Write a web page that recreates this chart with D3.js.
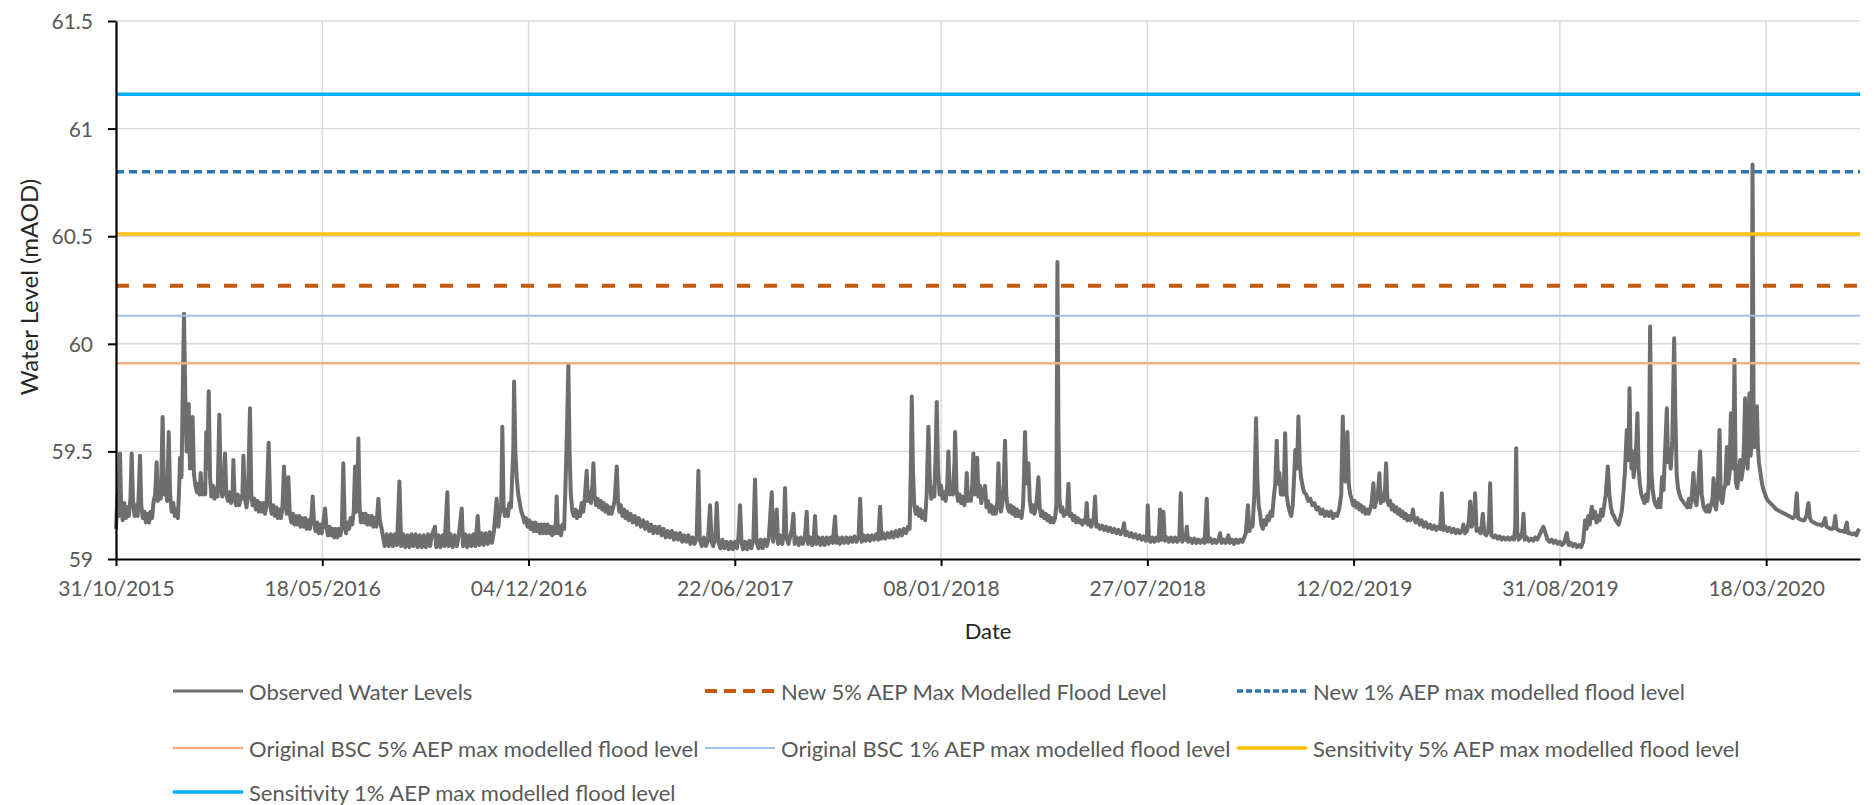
<!DOCTYPE html>
<html>
<head>
<meta charset="utf-8">
<script src="https://cdn.jsdelivr.net/npm/d3@7"></script>
<style>
  body { margin: 0; background: #ffffff; }
  svg text { font-family: Lato, "Open Sans", "DejaVu Sans", sans-serif; }
</style>
</head>
<body>
<svg id="chart" width="1874" height="805"></svg>
<script>
// ---- data -----------------------------------------------------------------
const startLabel = "31/10/2015";          // first day of the record
const axisEndDay = 1691;                  // x axis runs to this many days after the start
const xTickLabels = ["31/10/2015", "18/05/2016", "04/12/2016", "22/06/2017", "08/01/2018",
                     "27/07/2018", "12/02/2019", "31/08/2019", "18/03/2020"];
const yTicks = [59, 59.5, 60, 60.5, 61, 61.5];

// modelled flood levels (mAOD)
const levelNames = [
  "New 5% AEP Max Modelled Flood Level",
  "New 1% AEP max modelled flood level",
  "Original BSC 5% AEP max modelled flood level",
  "Original BSC 1% AEP max modelled flood level",
  "Sensitivity 5% AEP max modelled flood level",
  "Sensitivity 1% AEP max modelled flood level"
];
const levelValues = [60.27, 60.80, 59.91, 60.13, 60.51, 61.16];

// observed water level: [days after start, level mAOD]
const observedLevels = [
[0,59.14],[1.5,59.3],[2.5,59.2],[3.9,59.49],[5,59.25],[6.5,59.18],[8,59.26],[9.5,59.19],[11,59.24],[12.5,59.2],[14,59.28],[15.2,59.49],[16.5,59.27],[18,59.2],[19.5,59.25],[21,59.2],[22,59.3],[23.3,59.48],[24.5,59.25],[26,59.19],[27.5,59.22],[29,59.17],[30.5,59.21],[32,59.17],[33.5,59.22],[35,59.19],[36.5,59.27],[38,59.3],[39.4,59.45],[40.5,59.27],[42,59.33],[43.5,59.28],[45.2,59.66],[46.5,59.3],[48,59.35],[49.5,59.27],[51.1,59.59],[52.5,59.3],[54,59.22],[55.5,59.26],[57,59.2],[58.5,59.23],[60,59.19],[61,59.3],[62.1,59.47],[63.5,59.38],[65.9,60.14],[67.2,59.75],[68.5,59.5],[69.5,59.58],[70.5,59.72],[71.8,59.42],[73,59.47],[74.3,59.66],[75.5,59.4],[77,59.34],[78.5,59.31],[80,59.35],[81,59.3],[82.1,59.4],[83.5,59.3],[85,59.34],[86.5,59.3],[87.5,59.59],[88.6,59.42],[89.9,59.78],[91.2,59.38],[92.5,59.29],[94,59.34],[95.5,59.28],[97,59.33],[98.5,59.29],[100.2,59.67],[101.5,59.36],[103,59.29],[104.5,59.34],[105.7,59.49],[107,59.3],[108.5,59.27],[110,59.31],[111.5,59.26],[113,59.3],[113.8,59.46],[115,59.28],[116.5,59.25],[118,59.3],[119.5,59.25],[121,59.29],[122.5,59.28],[123.5,59.48],[125,59.28],[126.5,59.24],[128,59.29],[129.9,59.7],[131.2,59.3],[132.5,59.25],[134,59.28],[135.5,59.23],[137,59.27],[138.5,59.22],[140,59.26],[141.5,59.22],[143,59.26],[144.5,59.21],[146,59.25],[148,59.54],[149.5,59.25],[151,59.21],[152.5,59.25],[154,59.2],[155.5,59.24],[157,59.19],[158.5,59.23],[160,59.19],[161.5,59.25],[162.9,59.43],[164,59.27],[165.5,59.21],[167.1,59.38],[168.5,59.21],[170,59.17],[171.5,59.21],[173,59.16],[174.5,59.2],[176,59.16],[177.5,59.2],[179,59.15],[180.5,59.19],[182,59.15],[183.5,59.19],[185,59.14],[186.5,59.18],[188,59.14],[189.5,59.2],[190.7,59.29],[192,59.17],[193.5,59.13],[195,59.17],[196.5,59.12],[198,59.16],[199.5,59.12],[201,59.17],[202.7,59.235],[204,59.15],[205.5,59.11],[207,59.15],[208.5,59.11],[210,59.14],[211.5,59.1],[213,59.14],[214.5,59.1],[216,59.14],[217.5,59.11],[219,59.15],[220.4,59.445],[221.8,59.15],[223,59.12],[224.5,59.17],[226,59.14],[227.5,59.19],[229,59.16],[230.5,59.22],[231.8,59.43],[233,59.22],[234,59.3],[235,59.56],[236.2,59.24],[237.5,59.17],[239,59.21],[240.5,59.17],[242,59.21],[243.5,59.16],[245,59.2],[246.5,59.16],[248,59.2],[249.5,59.15],[251,59.19],[252.5,59.15],[254.4,59.28],[255.8,59.18],[257.6,59.14],
[259,59.1],[260.5,59.06],[262.5,59.115],[264.5,59.06],[266.5,59.115],[268.5,59.06],[270.5,59.115],[272.5,59.065],[274.8,59.36],[276.5,59.06],[278.5,59.115],[280.5,59.055],[282.5,59.11],[284.5,59.055],[286.5,59.115],[288.5,59.06],[290.5,59.115],[292.5,59.055],[294.5,59.11],[296.5,59.055],[298.5,59.11],[300.5,59.055],[302.5,59.115],[304.5,59.06],[306.5,59.115],[309.3,59.15],[310.5,59.055],[312.5,59.11],[314.5,59.055],[316.5,59.11],[318.5,59.06],[321.3,59.31],[322.5,59.06],[324.5,59.115],[326.5,59.055],[328.5,59.11],[330.5,59.06],[332.5,59.115],[335.2,59.235],[336.5,59.06],[338.5,59.115],[340.5,59.055],[342.5,59.11],[344.5,59.06],[346.5,59.115],[348.5,59.06],[350.7,59.2],[352.5,59.065],[354.5,59.12],[356.5,59.065],[358.5,59.12],[360.5,59.07],[362.5,59.125],[364.5,59.075],[366.5,59.13],[369.1,59.28],
[370.7,59.15],[372,59.21],[373.5,59.25],[374.6,59.615],[375.8,59.24],[377,59.2],[378.5,59.23],[380,59.2],[381.5,59.26],[383,59.24],[384.3,59.4],[385.2,59.5],[386,59.825],[387.2,59.5],[388.5,59.38],[390,59.3],[391.5,59.26],[393,59.22],[394.5,59.2],[396,59.17],[397.5,59.19],[399,59.15],[400.5,59.18],[402,59.14],[403.5,59.17],[405,59.13],[406.5,59.17],[408,59.13],[409.5,59.16],[411,59.12],[412.5,59.16],[414,59.12],[415.5,59.16],[417,59.12],[418.5,59.16],[420,59.12],
[421.5,59.15],[423,59.11],[424.5,59.15],[426,59.12],[427.3,59.29],[428.5,59.12],[430,59.15],[431.5,59.11],[433,59.16],[434.5,59.14],[436,59.37],[437.3,59.6],[438.6,59.9],[439.8,59.5],[441,59.3],[442.5,59.22],[444,59.2],[445.5,59.23],[447,59.19],[448.5,59.22],[450,59.2],[451.5,59.26],[453,59.22],[454.5,59.28],[456.4,59.41],[457.5,59.27],[459,59.31],[460.5,59.26],[462,59.35],[462.9,59.445],[464,59.3],[465.5,59.25],[467,59.28],[468.5,59.24],[470,59.27],[471.5,59.23],[473,59.26],[474.5,59.22],[476,59.25],[477.5,59.21],[479,59.24],[480.5,59.21],[482,59.24],[483.5,59.27],[485.5,59.43],[486.8,59.27],[488,59.22],[489.5,59.25],[491,59.2],[492.5,59.23],[494,59.19],[495.5,59.22],[497,59.18],[499,59.21],[501,59.17],[503,59.2],[505,59.16],[507,59.19],[509,59.15],[511,59.18],[513,59.14],[515,59.17],[517,59.13],[519,59.16],[521,59.12],[523,59.15],[525,59.12],[527,59.15],[529,59.11],[531,59.14],[533,59.1],[535,59.13],[537,59.1],[539,59.13],[541,59.09],[543,59.12],[545,59.09],[547,59.12],[549,59.08],[551,59.11],[553,59.08],[555,59.11],[557,59.07],[559,59.1],[561,59.07],[563,59.1],[564.7,59.41],[566,59.09],[568,59.06],[570,59.1],[572,59.06],[574,59.09],[576,59.25],[577.5,59.08],[579,59.06],[581,59.1],[582.5,59.26],[584,59.08],[586,59.05],[588,59.09],[590,59.05],[592,59.08],[594,59.045],[596,59.08],[598,59.045],[600,59.08],[602,59.05],[603.5,59.1],[605.1,59.25],[606.5,59.08],[608,59.045],[610,59.08],[612,59.045],[614,59.085],[616,59.05],[618,59.09],[619.6,59.37],[621,59.08],[623,59.05],[625,59.09],[627,59.05],[629,59.09],[631,59.06],[633,59.1],[635.8,59.31],[637.2,59.08],[638.8,59.12],[640.6,59.23],[642,59.07],[644,59.11],[646,59.07],[647.5,59.12],[648.7,59.33],[650,59.1],[652,59.07],[654,59.11],[655.5,59.14],[656.8,59.21],[658,59.07],[660,59.1],[662,59.065],[664,59.1],[666,59.07],[668,59.1],[669.7,59.22],[671,59.07],[673,59.1],[675,59.065],[676.5,59.1],[677.8,59.2],[679,59.07],[681,59.1],[683,59.065],[685,59.1],[687,59.065],[689,59.1],[691,59.07],[693,59.1],[695,59.075],[697.2,59.197],[698.5,59.075],[700,59.1],[702,59.07],[704,59.1],[706,59.075],[708,59.1],[710,59.075],[712,59.1],[714,59.08],[716,59.105],[718,59.08],[720,59.1],[721.5,59.28],[723,59.08],[725,59.11],[727,59.085],[729,59.11],[731,59.085],[733,59.11],[735,59.09],[737,59.115],[739,59.09],[740.9,59.243],[742.2,59.095],[744,59.12],[746,59.095],[748,59.12],[750,59.1],[752,59.125],[754,59.1],[756,59.13],[758,59.105],[760,59.135],[762,59.11],[764,59.14],[766,59.12],[768,59.15],[769.5,59.14],[770.6,59.4],[771.6,59.755],[772.8,59.4],[774,59.25],[775.5,59.21],[777,59.24],[778.5,59.2],[780,59.23],[781.5,59.19],[783,59.22],[784.5,59.18],[786,59.3],[787.7,59.615],[789,59.38],[790.5,59.28],[792,59.33],[793.5,59.29],[794.8,59.5],[795.8,59.73],[797,59.42],[798.5,59.3],[800,59.34],[801.5,59.28],[803,59.31],[804.5,59.27],[806,59.35],[807.1,59.5],[808.5,59.3],[810,59.34],[811.5,59.3],[813,59.45],[813.6,59.59],[815,59.32],[816.5,59.27],[818,59.3],[819.5,59.26],[821,59.29],[822.5,59.25],[824,59.3],[824.9,59.4],[826,59.27],[827.5,59.3],[829,59.27],
[830.2,59.35],[831.3,59.49],[832.5,59.3],[833.8,59.42],[835,59.47],[836.2,59.29],[837.8,59.34],[839,59.26],[840.5,59.3],[842.6,59.34],[844,59.24],[845.5,59.27],[847,59.22],[848.5,59.25],[850,59.21],[851.5,59.24],[853,59.21],[854.5,59.26],[855.6,59.445],[856.8,59.25],[858,59.22],[859.5,59.26],[860.8,59.35],[862,59.55],[863.2,59.3],[864.5,59.24],[866,59.22],[867.5,59.25],[869,59.21],[870.5,59.24],[872,59.2],[873.5,59.23],[875,59.2],[876.5,59.22],[878,59.19],[879.5,59.25],[880.5,59.4],[881.4,59.59],[882.5,59.38],[883.6,59.35],[884.7,59.445],[886,59.27],[887.5,59.22],[889,59.25],[890.5,59.21],[892,59.24],[893.2,59.3],[894.4,59.38],[895.6,59.24],[897,59.2],[898.5,59.22],[900,59.19],[901.5,59.21],[903,59.18],[904.5,59.2],[906,59.17],[907.5,59.19],[909,59.17],[910.5,59.19],[911.8,59.25],[912.8,60.38],[913.8,59.6],[914.8,59.28],[916,59.22],[917.5,59.24],[919,59.2],[920.5,59.22],[922,59.21],[923.5,59.35],[924.8,59.2],[926.5,59.21],[928,59.18],[929.5,59.2],[931,59.17],[932.5,59.19],[934,59.17],[935.5,59.18],[937,59.16],[938.5,59.18],[940,59.17],[941.2,59.26],[942.5,59.16],[944,59.18],[945.5,59.15],[947,59.17],[948.2,59.2],[949.3,59.29],[950.5,59.15],[952,59.16],[954,59.14],[956,59.155],[958,59.135],[960,59.15],[962,59.13],[964,59.145],[966,59.125],[968,59.14],[970,59.12],[972,59.135],[974,59.115],[976,59.13],[977.4,59.166],[978.7,59.11],[980.5,59.125],[982.5,59.105],[984.5,59.12],[986.5,59.1],[988.5,59.115],[990.5,59.095],[992.5,59.11],[994.5,59.09],[996.5,59.105],[998.5,59.085],[999.6,59.1],[1000.4,59.25],[1001.5,59.09],[1003,59.08],[1005,59.1],[1007,59.08],[1009,59.1],[1011,59.085],[1012.3,59.23],[1013.8,59.09],[1015.6,59.22],[1017,59.085],[1019,59.1],[1021,59.08],[1023,59.1],[1025,59.08],[1027,59.1],[1029,59.08],[1031,59.1],[1032.4,59.305],[1033.8,59.08],[1035.5,59.1],[1037,59.09],[1038.2,59.15],[1039.5,59.08],[1041.5,59.095],[1043.5,59.075],[1045.5,59.095],[1047.5,59.075],[1049.5,59.09],[1051.5,59.075],[1053.5,59.09],[1055.5,59.075],[1057.6,59.28],[1059,59.08],[1061,59.095],[1063,59.075],[1065,59.09],[1067,59.075],[1069,59.09],[1070.5,59.12],[1072,59.075],[1074,59.09],[1076,59.075],[1078.6,59.11],[1080,59.075],[1082,59.09],[1084,59.07],[1086,59.09],[1088,59.075],[1090,59.09],[1092,59.08],[1094,59.1],[1095.5,59.12],[1097.5,59.25],[1099,59.13],[1100.5,59.17],[1102,59.15],[1103.8,59.3],[1105.4,59.654],[1106.8,59.35],[1108,59.25],[1109.3,59.21],[1110.5,59.16],[1112,59.14],[1113.5,59.18],[1115,59.16],[1116.5,59.2],[1118,59.18],[1119.5,59.22],[1121,59.2],[1122.5,59.28],[1124,59.35],[1125.5,59.55],[1126.8,59.35],[1128,59.4],[1129.5,59.3],[1131,59.35],[1132.2,59.3],[1133.6,59.584],[1135,59.3],[1136.5,59.25],[1138,59.22],[1139.5,59.2],[1141,59.25],[1142.3,59.38],[1143.5,59.507],[1144.7,59.42],[1145.6,59.5],[1146.5,59.662],[1147.8,59.45],[1149,59.38],[1150.5,59.34],[1152,59.31],[1154,59.3],[1156,59.27],[1158,59.28],[1160,59.25],[1162,59.26],[1164,59.23],[1166,59.24],[1168,59.21],[1170,59.23],[1172,59.2],[1174,59.22],[1176,59.2],[1178,59.22],[1180,59.19],[1182,59.21],[1184,59.2],[1186,59.23],[1188,59.3],[1189.5,59.662],[1190.8,59.4],[1192,59.36],[1193,59.45],[1194,59.59],[1195.3,59.35],[1196.7,59.3],[1198,59.28],[1199.5,59.25],[1201,59.27],[1202.5,59.24],[1204,59.26],[1205.5,59.23],[1207,59.25],[1208.5,59.22],[1210,59.24],[1211.5,59.21],[1213,59.23],[1214.5,59.21],[1216,59.23],[1217.5,59.26],[1219.2,59.352],[1220.5,59.24],[1222,59.27],[1223.5,59.3],[1225,59.398],[1226.3,59.26],[1227.8,59.3],[1229.2,59.27],[1230.5,59.33],[1231.5,59.445],[1232.7,59.28],[1234,59.25],[1235.5,59.27],[1237,59.23],[1238.5,59.25],[1240,59.22],[1241.5,59.24],[1243,59.21],[1244.5,59.23],[1246,59.2],[1247.5,59.22],[1249,59.19],[1250.5,59.21],[1252,59.18],[1253.5,59.2],[1255,59.18],
[1256.5,59.2],[1257.5,59.23],[1258.5,59.19],[1260,59.17],[1262,59.19],[1264,59.16],[1266,59.18],[1268,59.15],[1270,59.17],[1272,59.145],[1274,59.16],[1276,59.14],[1278,59.155],[1280,59.135],[1282,59.15],[1284,59.14],[1285.5,59.305],[1287,59.135],[1289,59.15],[1291,59.13],[1293,59.145],[1295,59.125],[1297,59.14],[1299,59.12],[1301,59.135],[1303,59.12],[1305,59.13],[1306.5,59.16],[1308,59.12],[1310,59.13],[1311.8,59.18],[1313,59.267],[1314.5,59.15],[1316.5,59.18],[1317.8,59.305],[1319.2,59.13],[1321,59.14],[1323,59.12],[1324.2,59.16],[1325.3,59.21],[1326.8,59.12],[1328.5,59.11],[1330.5,59.13],[1331.5,59.2],[1332.4,59.352],[1333.6,59.11],[1335.5,59.1],[1337.5,59.11],[1339.5,59.095],[1341.5,59.105],[1343.5,59.09],[1345.5,59.1],[1347.5,59.09],[1349.5,59.1],[1351.5,59.09],[1353.5,59.1],[1355.5,59.09],[1356.7,59.15],[1357.6,59.515],[1358.7,59.12],[1360,59.09],[1362,59.1],[1363.6,59.13],[1364.7,59.21],[1366,59.09],[1368,59.1],[1370,59.085],[1372,59.095],[1374,59.085],[1376,59.1],[1378,59.09],[1380,59.11],[1382,59.13],[1384,59.15],[1386,59.12],[1388,59.09],[1390,59.08],[1392,59.09],[1394,59.075],[1396,59.085],[1398,59.07],[1400,59.08],[1402,59.065],[1404,59.075],[1406.7,59.12],[1408.5,59.065],[1410.5,59.075],[1412.5,59.06],[1414.5,59.07],[1416.5,59.055],[1418.5,59.065],[1420.5,59.055],[1422.5,59.08],[1424.5,59.18],[1426,59.14],[1427.5,59.2],[1429,59.16],[1430,59.21],[1431,59.243],[1432.5,59.19],[1434,59.22],[1435.5,59.17],[1437,59.2],[1438.5,59.18],[1440,59.23],[1441.5,59.2],[1443,59.25],[1444.5,59.3],[1446.5,59.43],[1448,59.3],[1449.5,59.24],[1451,59.21],[1452.5,59.2],[1454,59.18],[1455.5,59.17],[1457,59.16],[1458.5,59.19],[1460,59.22],[1461.5,59.3],[1463,59.4],[1464.9,59.6],[1466,59.46],[1466.8,59.55],[1467.5,59.794],[1468.5,59.5],[1469.5,59.42],[1470.5,59.5],[1471.5,59.38],[1473,59.45],[1474.2,59.55],[1475.2,59.677],[1476.3,59.42],[1477.5,59.35],[1479,59.3],[1480.5,59.28],[1482,59.26],[1483.5,59.3],[1485,59.27],[1486.2,59.35],[1487.5,60.08],[1488.8,59.4],[1490,59.32],[1491.5,59.27],[1493,59.25],[1494.5,59.24],[1496,59.28],[1497.5,59.24],[1499,59.38],[1500.5,59.32],[1502,59.5],[1503.7,59.7],[1505,59.45],[1506.3,59.5],[1507.5,59.42],[1509,59.55],[1510.8,60.026],[1512,59.66],[1513.2,59.4],[1514.5,59.33],[1516,59.3],[1517.5,59.28],[1519,59.27],[1520.5,59.26],[1522,59.25],[1523.5,59.24],[1525,59.28],[1526.5,59.24],[1528,59.3],[1529.5,59.4],[1531,59.27],[1532.5,59.25],[1534,59.33],[1536,59.5],[1537.5,59.3],[1539,59.25],[1540.5,59.23],[1542,59.22],[1543.5,59.25],[1545,59.22],[1546.5,59.25],[1548,59.28],[1549,59.375],[1550.3,59.25],[1551.5,59.23],[1553,59.32],[1554.8,59.6],[1556,59.28],[1557.5,59.26],[1559,59.32],[1560.5,59.35],[1561.9,59.52],[1563.2,59.35],[1564.5,59.4],[1565.8,59.677],[1567,59.42],[1568.2,59.5],[1569.3,59.926],[1570.5,59.36],[1572,59.33],[1573.5,59.4],[1574.8,59.46],[1576,59.37],[1577.5,59.42],[1578.6,59.55],[1579.6,59.747],[1580.8,59.47],[1582,59.42],[1583,59.6],[1583.8,59.77],[1585,59.48],[1586,59.55],[1586.8,60.833],[1587.8,59.7],[1588.8,59.52],[1590,59.6],[1591,59.71],[1592,59.52],[1593,59.45],[1594.5,59.4],[1596,59.35],[1597.5,59.32],[1599,59.3],[1600.5,59.28],[1602,59.27],[1604,59.26],[1606,59.25],[1608,59.24],[1610,59.23],[1612,59.225],[1614,59.22],[1616,59.215],[1618,59.21],[1620,59.205],[1622,59.2],[1624,59.195],[1626,59.19],[1628,59.2],[1629.7,59.305],[1631,59.19],[1633,59.185],[1635,59.18],[1637,59.18],[1639,59.2],[1641,59.26],[1642.5,59.19],[1644,59.175],[1646,59.17],[1648,59.165],[1650,59.16],[1652,59.16],[1654,59.155],[1655.8,59.17],[1657.2,59.19],[1658.5,59.15],[1660.5,59.145],[1662.5,59.14],[1664.5,59.14],[1666,59.16],[1667,59.2],[1668.2,59.14],[1670,59.135],[1672,59.13],[1674,59.13],[1676,59.125],[1677.2,59.15],[1678.2,59.17],[1679.5,59.12],[1681.5,59.12],[1683.5,59.115],[1685.5,59.12],[1687.5,59.11],[1689,59.13],[1690.5,59.14]
];

// ---- styles -----------------------------------------------------------------
const observedStyle = { name: "Observed Water Levels", color: "#6e6e6e", width: 4, dash: null };
const levelStyles = [
  { color: "#c55a11", width: 4,   dash: "13,14" },
  { color: "#2e75b6", width: 3.5, dash: "8,5" },
  { color: "#f4b183", width: 2.5, dash: null },
  { color: "#9dc3e6", width: 2,   dash: null },
  { color: "#ffc000", width: 3.5, dash: null },
  { color: "#00b0f0", width: 3.5, dash: null }
];

// ---- scales -----------------------------------------------------------------
const svg = d3.select("#chart");
const plot = { left: 116, right: 1860, top: 21, bottom: 559 };
const parseDMY = d3.utcParse("%d/%m/%Y");
const t0 = parseDMY(startLabel);
const DAY = 864e5;
const toDate = d => new Date(t0.getTime() + d * DAY);

const x = d3.scaleUtc().domain([t0, toDate(axisEndDay)]).range([plot.left, plot.right]);
const y = d3.scaleLinear().domain([yTicks[0], yTicks[yTicks.length - 1]]).range([plot.bottom, plot.top]);
const xTickDates = xTickLabels.map(parseDMY);

// ---- gridlines --------------------------------------------------------------
const grid = svg.append("g").attr("stroke", "#d9d9d9").attr("stroke-width", 1.4);
grid.selectAll("line.h").data(yTicks.slice(1)).join("line")
  .attr("x1", plot.left).attr("x2", plot.right)
  .attr("y1", d => y(d)).attr("y2", d => y(d));
grid.selectAll("line.v").data(xTickDates.slice(1)).join("line")
  .attr("x1", d => x(d)).attr("x2", d => x(d))
  .attr("y1", plot.top).attr("y2", plot.bottom);

// ---- observed series ----------------------------------------------------------
const line = d3.line().x(d => x(toDate(d[0]))).y(d => y(d[1]));
svg.append("path")
  .datum(observedLevels)
  .attr("d", line)
  .attr("fill", "none")
  .attr("stroke", observedStyle.color)
  .attr("stroke-width", observedStyle.width)
  .attr("stroke-linejoin", "round");

// ---- modelled flood levels ------------------------------------------------------
levelValues.forEach((v, i) => {
  const s = levelStyles[i];
  svg.append("path")
    .datum([[0, v], [axisEndDay, v]])
    .attr("d", line)
    .attr("fill", "none")
    .attr("stroke", s.color)
    .attr("stroke-width", s.width)
    .attr("stroke-dasharray", s.dash);
});

// ---- axes -------------------------------------------------------------------
const yAxis = svg.append("g")
  .attr("transform", `translate(${plot.left},0)`)
  .call(d3.axisLeft(y).tickValues(yTicks).tickFormat(d3.format("")).tickSize(8).tickSizeOuter(0));
const xAxis = svg.append("g")
  .attr("transform", `translate(0,${plot.bottom})`)
  .call(d3.axisBottom(x).tickValues(xTickDates).tickFormat(d3.utcFormat("%d/%m/%Y")).tickSize(7).tickSizeOuter(0));

[yAxis, xAxis].forEach(g => {
  g.select(".domain").attr("stroke", "#000").attr("stroke-width", 2.2);
  g.selectAll(".tick line").attr("stroke", "#000").attr("stroke-width", 2);
  g.selectAll(".tick text").attr("fill", "#595959").attr("font-size", 21);
});
yAxis.selectAll(".tick text").attr("x", -23).attr("dy", "0.36em");
xAxis.selectAll(".tick text").attr("y", 22).attr("dy", "0.71em");

// axis titles
svg.append("text")
  .attr("transform", `translate(28,${(plot.top + plot.bottom) / 2 - 3}) rotate(-90)`)
  .attr("text-anchor", "middle").attr("dominant-baseline", "central")
  .attr("font-size", 24).attr("fill", "#262626")
  .text("Water Level (mAOD)");
svg.append("text")
  .attr("x", (plot.left + plot.right) / 2).attr("y", 630)
  .attr("text-anchor", "middle").attr("dominant-baseline", "central")
  .attr("font-size", 22).attr("fill", "#262626")
  .text("Date");

// ---- legend -------------------------------------------------------------------
const legendItems = [observedStyle].concat(levelNames.map((n, i) => Object.assign({ name: n }, levelStyles[i])));
const legendCols = [173, 705, 1237];
const legendRows = [691, 748, 792];
const legend = svg.append("g");
legendItems.forEach((it, i) => {
  const cx = legendCols[i % 3], cy = legendRows[Math.floor(i / 3)];
  legend.append("line")
    .attr("x1", cx).attr("x2", cx + 70).attr("y1", cy).attr("y2", cy)
    .attr("stroke", it.color).attr("stroke-width", it.width >= 4 && !it.dash ? 3 : it.width)
    .attr("stroke-dasharray", it.dash ? (it.width >= 4 ? "12,7" : "6,3") : null);
  legend.append("text")
    .attr("x", cx + 76).attr("y", cy)
    .attr("dominant-baseline", "central")
    .attr("font-size", 22).attr("fill", "#595959")
    .text(it.name);
});
</script>
</body>
</html>
